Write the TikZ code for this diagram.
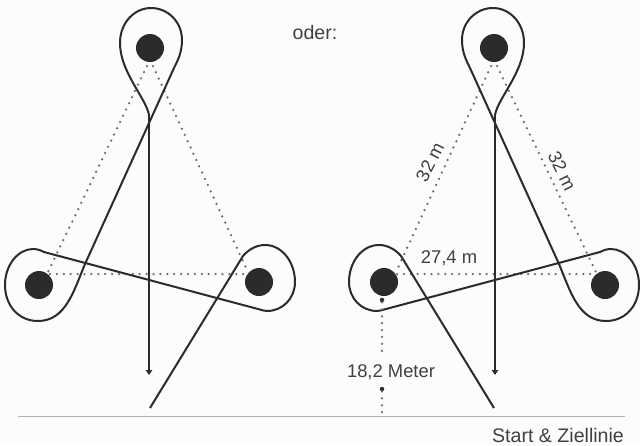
\documentclass[tikz,border=0pt]{standalone}
\usepackage{fontspec}
\setmainfont{Liberation Sans}
\usetikzlibrary{arrows.meta}
\definecolor{ink}{HTML}{2B2B2B}
\definecolor{txt}{HTML}{404040}
\tikzset{
  x=1pt,y=-1pt,
  track/.style={draw=ink,line width=2pt,line join=round},
  arrowline/.style={draw=ink,line width=2pt,-{Triangle[width=6.5pt,length=5pt]}},
  pylon/.style={circle,fill=ink,draw=none,minimum size=28pt,inner sep=0pt},
  dots/.style={draw=ink!70,line width=2.5pt,line cap=round,dash pattern=on 0pt off 6.9pt},
  tip/.style={circle,fill=ink,draw=none,minimum size=4.5pt,inner sep=0pt},
  lab/.style={text=txt,font=\fontsize{18.4}{20}\selectfont,inner sep=0pt},
  biglab/.style={text=txt,font=\fontsize{19.6}{21}\selectfont,inner sep=0pt},
  baseline/.style={draw=black!30,line width=0.8pt}
}
\newcommand{\courseshape}{%
  \path[arrowline] (149,115) -- (149,375);
  \path[track] (149,115) .. controls (146,98) and (120,72) .. (120,43)
    .. controls (120,22) and (135,8) .. (151,8)
    .. controls (168,8) and (182,22) .. (182,40)
    .. controls (182,52) and (178,60) .. (174,68)
    -- (85,264)
    .. controls (74,290) and (66,321) .. (38,321)
    .. controls (18,321) and (5,305) .. (5,285)
    .. controls (5,265) and (18,249) .. (33,249)
    .. controls (37,249) and (40,250) .. (44,252)
    -- (258,309)
    .. controls (262,310) and (264,311) .. (267,311)
    .. controls (283,311) and (295,298) .. (295,282)
    .. controls (295,262) and (282,245) .. (265,245)
    .. controls (256,245) and (248,250) .. (243,256)
    -- (150,408);
}
\begin{document}
\begin{tikzpicture}
\useasboundingbox (0,0) rectangle (640,445);
\fill[black!1] (0,0) rectangle (640,445);
% start line
\coordinate (lineL) at (18,416);
\coordinate (lineR) at (625,416);
\draw[baseline] (lineL) -- (lineR);
% dotted triangles
\coordinate (a1) at (147,66); \coordinate (a2) at (48,272);
\coordinate (a3) at (153,66); \coordinate (a4) at (248,272);
\coordinate (a5) at (50,274); \coordinate (a6) at (248,274);
\draw[dots] (a1) -- (a2);
\draw[dots] (a3) -- (a4);
\draw[dots] (a5) -- (a6);
\coordinate (b1) at (491,66); \coordinate (b2) at (396,272);
\coordinate (b3) at (497,66); \coordinate (b4) at (596,272);
\coordinate (b5) at (397,274); \coordinate (b6) at (594,274);
\draw[dots] (b1) -- (b2);
\draw[dots] (b3) -- (b4);
\draw[dots] (b5) -- (b6);
% courses
\courseshape
\begin{scope}[xshift=644pt,xscale=-1]
\courseshape
\end{scope}
% pylons
\node[pylon] (lt) at (150,48) {};
\node[pylon] (ll) at (39,285) {};
\node[pylon] (lr) at (259,282) {};
\node[pylon] (rt) at (494,48) {};
\node[pylon] (rl) at (384,282) {};
\node[pylon] (rr) at (605,285) {};
% distance to start line
\node[lab] (dist) at (391,372) {18,2 Meter};
\node[tip] (d1) at (382,300) {};
\coordinate (d2) at (382,356);
\node[tip] (d3) at (382,389) {};
\coordinate (d4) at (382,419);
\draw[dots] (d1) -- (d2);
\draw[dots] (d3) -- (d4);
% labels
\node[biglab] (oder) at (315,32) {oder:};
\node[lab] (h) at (449,258) {27,4 m};
\node[lab,rotate=63] (s1) at (430,162) {32 m};
\node[lab,rotate=-64] (s2) at (562,171) {32 m};
\node[biglab] (start) at (558,435) {Start \& Ziellinie};
\end{tikzpicture}
\end{document}
